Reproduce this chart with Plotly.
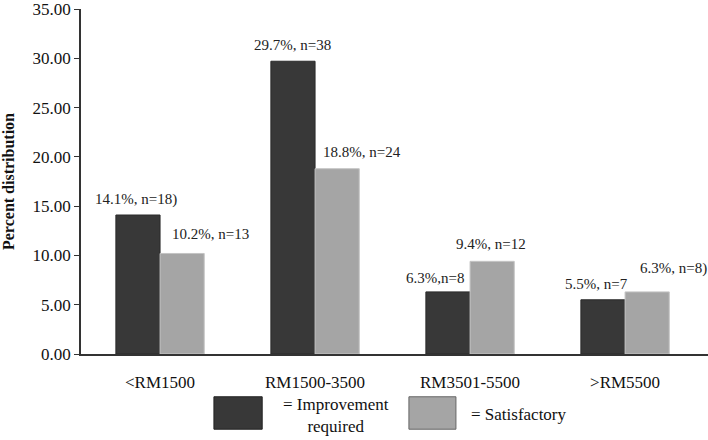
import plotly.graph_objects as go

# income groups and percent distribution per satisfaction group
categories = ['<RM1500', 'RM1500-3500', 'RM3501-5500', '>RM5500']
improvement = [14.1, 29.7, 6.3, 5.5]
satisfactory = [10.2, 18.8, 9.4, 6.3]
improvement_labels = ['14.1%, n=18)', '29.7%, n=38', '6.3%,n=8', '5.5%, n=7']
satisfactory_labels = ['10.2%, n=13', '18.8%, n=24', '9.4%, n=12', '6.3%, n=8)']

FONT = 'Liberation Serif, Times New Roman, serif'
DARK = '#383838'
LIGHT = '#a5a5a5'

fig = go.Figure()
fig.add_trace(go.Bar(x=categories, y=improvement, name='Improvement required',
                     marker=dict(color=DARK, line=dict(color='#2a2a2a', width=1))))
fig.add_trace(go.Bar(x=categories, y=satisfactory, name='Satisfactory',
                     marker=dict(color=LIGHT, line=dict(color='#c4c4c4', width=1))))

# value labels, nudged the way they sit in the original
imp_shift = [(-24, 16), (-23, 16), (-35, 14), (-29, 16)]
sat_shift = [(50, 19), (47, 17), (21, 17), (48, 23)]
for cat, v, t, (dx, dy) in zip(categories, improvement, improvement_labels, imp_shift):
    fig.add_annotation(x=cat, y=v, text=t, showarrow=False, xshift=dx, yshift=dy,
                       font=dict(family=FONT, size=15, color='#222'))
for cat, v, t, (dx, dy) in zip(categories, satisfactory, satisfactory_labels, sat_shift):
    fig.add_annotation(x=cat, y=v, text=t, showarrow=False, xshift=dx, yshift=dy,
                       font=dict(family=FONT, size=15, color='#222'))

# hand-made legend below the axis
fig.add_shape(type='rect', xref='paper', yref='paper', x0=0.212, x1=0.289, y0=-0.218, y1=-0.124,
              fillcolor=DARK, line=dict(color='#222', width=1))
fig.add_shape(type='rect', xref='paper', yref='paper', x0=0.523, x1=0.598, y0=-0.218, y1=-0.124,
              fillcolor=LIGHT, line=dict(color='#666', width=1))
fig.add_annotation(xref='paper', yref='paper', x=0.407, y=-0.178, yanchor='middle',
                   text='= Improvement<br>required', showarrow=False, align='center',
                   font=dict(family=FONT, size=17, color='#111'))
fig.add_annotation(xref='paper', yref='paper', x=0.619, y=-0.175, xanchor='left', yanchor='middle',
                   text='= Satisfactory', showarrow=False,
                   font=dict(family=FONT, size=17, color='#111'))

fig.update_layout(
    width=708, height=440,
    margin=dict(l=81, r=0, t=9, b=86, autoexpand=False),
    plot_bgcolor='white', paper_bgcolor='white',
    barmode='group', bargap=0.43, bargroupgap=0,
    showlegend=False,
    font=dict(family=FONT, color='#111'),
)
fig.update_xaxes(range=[-0.51, 3.535], showline=True, linecolor='#333', linewidth=1.5,
                 ticks='', showgrid=False, tickfont=dict(size=17), ticklabelstandoff=12,
                 automargin=False)
fig.update_yaxes(range=[0, 35], dtick=5, tickformat='.2f', ticklabeloverflow='allow',
                 showline=True, linecolor='#333',
                 linewidth=1.5, ticks='outside', ticklen=5, tickcolor='#333', showgrid=False,
                 zeroline=False, tickfont=dict(size=17), automargin=False,
                 title=dict(text='<b>Percent distribution</b>', font=dict(size=16), standoff=16))

fig.write_html('out.html', config={'displayModeBar': False},
               post_script="document.body.style.margin='0';")
